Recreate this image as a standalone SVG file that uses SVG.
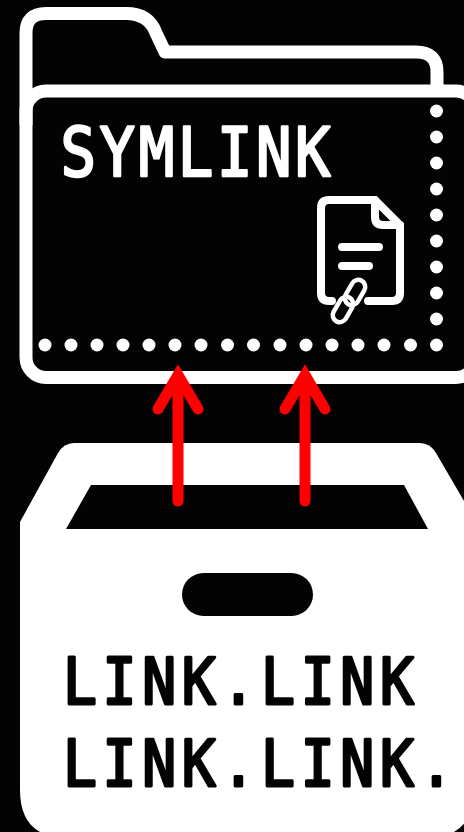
<svg xmlns="http://www.w3.org/2000/svg" width="464" height="832" viewBox="0 0 464 832">
<style>
.o{fill:none;stroke:#fff;stroke-width:13;stroke-linejoin:round}
.d{fill:#fff}
.i{fill:none;stroke:#fff;stroke-width:8;stroke-linecap:round;stroke-linejoin:round}
.c{fill:none;stroke:#fff;stroke-width:4.500}
.t{font-family:"DejaVu Sans Mono","Liberation Mono",monospace;stroke-linejoin:round}
.a{fill:none;stroke:#f00;stroke-width:11;stroke-linecap:round;stroke-miterlimit:4}
</style>
<defs><circle id="dot" class="d" r="6.5"/></defs>
<rect width="464" height="832" fill="#030303"/>
<g id="folder">
<path class="o" d="M26 125V33Q26 13.500 46 13.500H126Q149 13.500 156 33L165 52H416Q437 52 437 72V91"/>
<rect class="o" x="26" y="91" width="450" height="286.500" rx="20"/>
<text class="t" transform="translate(60.500 176) scale(.88 1)" font-size="67" letter-spacing="4.100" fill="#fff" stroke="#fff" stroke-width="2.500">SYMLINK</text>
</g>
<g id="dots">
<use href="#dot" x="45" y="345"/><use href="#dot" x="71" y="345"/><use href="#dot" x="97" y="345"/><use href="#dot" x="123" y="345"/><use href="#dot" x="149" y="345"/><use href="#dot" x="175" y="345"/><use href="#dot" x="201" y="345"/><use href="#dot" x="227.500" y="345"/><use href="#dot" x="253.500" y="345"/><use href="#dot" x="280" y="345"/><use href="#dot" x="306" y="345"/><use href="#dot" x="332" y="345"/><use href="#dot" x="358" y="345"/><use href="#dot" x="384" y="345"/><use href="#dot" x="410.500" y="345"/><use href="#dot" x="436.500" y="345"/>
<use href="#dot" x="436.500" y="111"/><use href="#dot" x="436.500" y="137"/><use href="#dot" x="436.500" y="163"/><use href="#dot" x="436.500" y="189"/><use href="#dot" x="436.500" y="215"/><use href="#dot" x="436.500" y="241"/><use href="#dot" x="436.500" y="267"/><use href="#dot" x="436.500" y="293"/><use href="#dot" x="436.500" y="319"/>
</g>
<g id="document">
<path class="i" d="M332 301H329Q321 301 321 293V208Q321 200 329 200H375L400 225V293Q400 301 392 301H368"/>
<path class="i" d="M375 200V217Q375 225 383 225H400M342 247H379M342 266H369"/>
<rect class="c" x="348" y="279" width="14" height="27" rx="7" transform="rotate(30 355 292.500)"/>
<rect class="c" x="336" y="296" width="14" height="27" rx="7" transform="rotate(30 343 309.500)"/>
</g>
<g id="box">
<path class="d" d="M74 443H420Q430 443 436 453L474 518V790Q474 838 426 838H68Q20 838 20 790V522L58 453Q64 443 74 443Z"/>
<path fill="#030303" d="M91 485H404L428 529H66Z"/>
<rect x="182" y="573" width="131" height="43" rx="21.500" fill="#030303"/>
<text class="t" transform="translate(63 703.500) scale(.88 1)" font-size="64" letter-spacing="6.500" fill="#030303" stroke="#030303" stroke-width="3">LINK.LINK</text>
<text class="t" transform="translate(63 785.500) scale(.88 1)" font-size="64" letter-spacing="6.500" fill="#030303" stroke="#030303" stroke-width="3">LINK.LINK.</text>
</g>
<g id="connectors">
<path class="a" d="M178 501V385M158 409L178 375L198 409"/>
<path class="a" d="M305 501V385M285 409L305 375L325 409"/>
</g>
</svg>
